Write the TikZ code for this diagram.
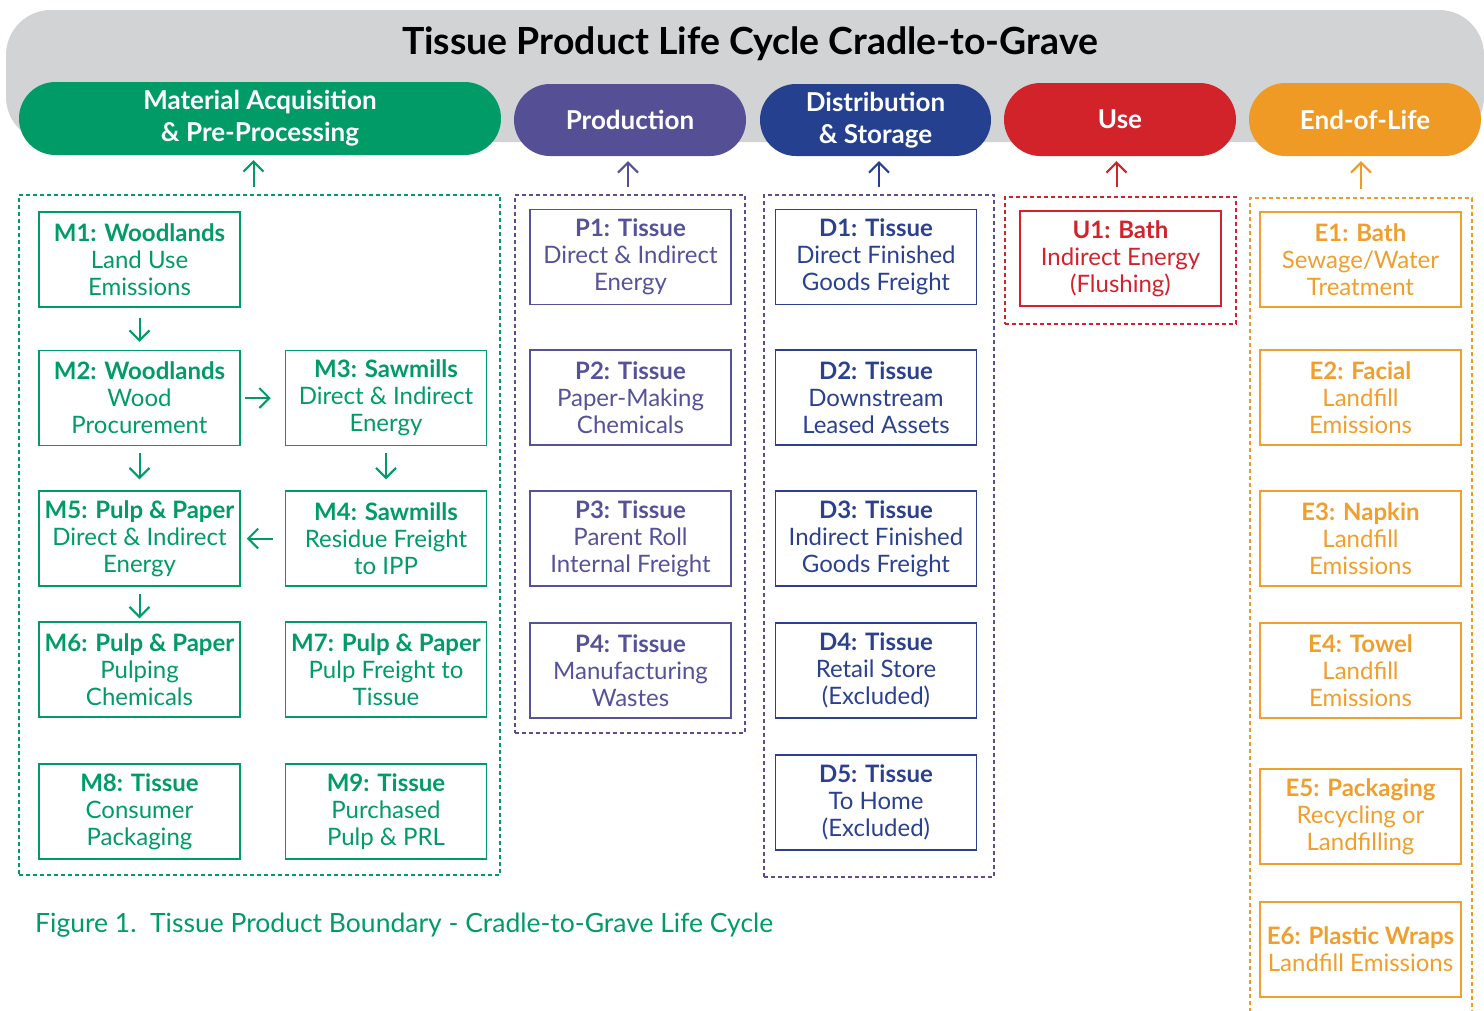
\documentclass[tikz,border=0pt]{standalone}
\usepackage{fontspec}
\setmainfont{Lato}
\usetikzlibrary{arrows.meta,shapes.misc}
\definecolor{bgray}{HTML}{D2D3D5}
\definecolor{cgreen}{HTML}{009B67}
\definecolor{cpurple}{HTML}{554F96}
\definecolor{cblue}{HTML}{24408E}
\definecolor{cred}{HTML}{D2232A}
\definecolor{corange}{HTML}{EF9A25}
\definecolor{tpurple}{HTML}{56529A}
\definecolor{tblue}{HTML}{2B418F}
\definecolor{torange}{HTML}{F09E2C}
\tikzset{
  pill/.style={rounded rectangle, fill=#1, text=white, inner sep=0pt, align=center,
    font=\fontsize{26}{32}\selectfont\bfseries},
  stagebox/.style={draw=#1, text=#1, line width=1.5pt, minimum width=201pt, minimum height=95pt,
    inner sep=0pt, align=center, font=\fontsize{24}{27}\selectfont},
  dashframe/.style={draw=#1, line width=1.4pt, dash pattern=on 4pt off 3pt, inner sep=0pt},
  arr/.style={draw=#1, line width=2pt, -{Straight Barb[length=10pt,width=20pt,line width=2pt]}},
}
\begin{document}
\begin{tikzpicture}[x=1pt,y=-1pt]
\useasboundingbox (0,0) rectangle (1484,1010);
% banner
\fill[bgray, rounded corners=45pt] (6,10) rectangle (1484,142);
\node[font=\fontsize{37.4}{42}\selectfont\bfseries, text=black] (title) at (750,44) {Tissue Product Life Cycle Cradle-to-Grave};
% pills
\node[pill=cgreen, minimum width=482pt, minimum height=73pt] (pM) at (260,118.5) {Material Acquisition\\\& Pre-Processing};
\node[pill=cpurple, minimum width=232pt, minimum height=72pt] (pP) at (630,120) {Production};
\node[pill=cblue, minimum width=231pt, minimum height=72pt] (pD) at (875.5,120) {Distribution\\\& Storage};
\node[pill=cred, minimum width=232pt, minimum height=73pt] (pU) at (1120,119.5) {Use};
\node[pill=corange, minimum width=232pt, minimum height=73pt] (pE) at (1365,119.5) {End-of-Life};
% dashed frames
\node[dashframe=cgreen, minimum width=481pt, minimum height=680pt] (cM) at (259.5,535) {};
\node[dashframe=cpurple, minimum width=230pt, minimum height=538pt] (cP) at (630,464) {};
\node[dashframe=cpurple, minimum width=230pt, minimum height=682pt] (cD) at (879,536) {};
\node[dashframe=cred, minimum width=231pt, minimum height=127pt] (cU) at (1120.5,260.5) {};
\coordinate (cEtop) at (1361,198);
\draw[corange, line width=1.4pt, dash pattern=on 4pt off 3pt] (1250,1012) -- (1250,198) -- (1472,198) -- (1472,1012);
% arrows to pills
\draw[arr=cgreen, shorten <=7pt, shorten >=5pt] ([xshift=-6pt]cM.north) -- ([xshift=-6pt]cM.north |- pM.south);
\draw[arr=cpurple, shorten <=7pt, shorten >=5pt] ([xshift=-2pt]cP.north) -- ([xshift=-2pt]cP.north |- pP.south);
\draw[arr=cblue, shorten <=7pt, shorten >=5pt] (cD.north) -- (cD.north |- pD.south);
\draw[arr=cred, shorten <=9pt, shorten >=5pt] ([xshift=-4pt]cU.north) -- ([xshift=-4pt]cU.north |- pU.south);
\draw[arr=corange, shorten <=9pt, shorten >=5pt] (cEtop) -- (cEtop |- pE.south);
% material boxes
\node[stagebox=cgreen] (M1) at (139.5,259.5) {\textbf{M1: Woodlands}\\Land Use\\Emissions};
\node[stagebox=cgreen] (M2) at (139.5,398) {\textbf{M2: Woodlands}\\Wood\\Procurement};
\node[stagebox=cgreen] (M3) at (386,398) {\textbf{M3: Sawmills}\\Direct \& Indirect\\Energy};
\node[stagebox=cgreen] (M5) at (139.5,538.5) {\textbf{M5: Pulp \& Paper}\\Direct \& Indirect\\Energy};
\node[stagebox=cgreen] (M4) at (386,538.5) {\textbf{M4: Sawmills}\\Residue Freight\\to IPP};
\node[stagebox=cgreen] (M6) at (139.5,669.5) {\textbf{M6: Pulp \& Paper}\\Pulping\\Chemicals};
\node[stagebox=cgreen] (M7) at (386,669.5) {\textbf{M7: Pulp \& Paper}\\Pulp Freight to\\Tissue};
\node[stagebox=cgreen] (M8) at (139.5,811.5) {\textbf{M8: Tissue}\\Consumer\\Packaging};
\node[stagebox=cgreen] (M9) at (386,811.5) {\textbf{M9: Tissue}\\Purchased\\Pulp \& PRL};
\draw[arr=cgreen, shorten <=10pt, shorten >=8pt] (M1) -- (M2);
\draw[arr=cgreen, shorten <=4pt, shorten >=14pt] (M2) -- (M3);
\draw[arr=cgreen, shorten <=7pt, shorten >=11pt] (M2) -- (M5);
\draw[arr=cgreen, shorten <=7pt, shorten >=11pt] (M3) -- (M4);
\draw[arr=cgreen, shorten <=12pt, shorten >=6pt] (M4) -- (M5);
\draw[arr=cgreen, shorten <=7pt, shorten >=3pt] (M5) -- (M6);
% production boxes
\node[stagebox=tpurple] (P1) at (630.5,257) {\textbf{P1: Tissue}\\Direct \& Indirect\\Energy};
\node[stagebox=tpurple] (P2) at (630.5,397.5) {\textbf{P2: Tissue}\\Paper-Making\\Chemicals};
\node[stagebox=tpurple] (P3) at (630.5,538.5) {\textbf{P3: Tissue}\\Parent Roll\\Internal Freight};
\node[stagebox=tpurple] (P4) at (630.5,670.5) {\textbf{P4: Tissue}\\Manufacturing\\Wastes};
% distribution boxes
\node[stagebox=tblue] (D1) at (876,257) {\textbf{D1: Tissue}\\Direct Finished\\Goods Freight};
\node[stagebox=tblue] (D2) at (876,397.5) {\textbf{D2: Tissue}\\Downstream\\Leased Assets};
\node[stagebox=tblue] (D3) at (876,538.5) {\textbf{D3: Tissue}\\Indirect Finished\\Goods Freight};
\node[stagebox=tblue] (D4) at (876,670.5) {\textbf{D4: Tissue}\\Retail Store\\(Excluded)};
\node[stagebox=tblue] (D5) at (876,802.5) {\textbf{D5: Tissue}\\To Home\\(Excluded)};
% use box
\node[stagebox=cred] (U1) at (1120.5,258.5) {\textbf{U1: Bath}\\Indirect Energy\\(Flushing)};
% end-of-life boxes
\node[stagebox=torange] (E1) at (1360.5,259.5) {\textbf{E1: Bath}\\Sewage/Water\\Treatment};
\node[stagebox=torange] (E2) at (1360.5,397.5) {\textbf{E2: Facial}\\Landfill\\Emissions};
\node[stagebox=torange] (E3) at (1360.5,538.5) {\textbf{E3: Napkin}\\Landfill\\Emissions};
\node[stagebox=torange] (E4) at (1360.5,670.5) {\textbf{E4: Towel}\\Landfill\\Emissions};
\node[stagebox=torange] (E5) at (1360.5,816.5) {\textbf{E5: Packaging}\\Recycling or\\Landfilling};
\node[stagebox=torange] (E6) at (1360.5,949.5) {\textbf{E6: Plastic Wraps}\\Landfill Emissions};
% caption
\node[anchor=west, text=cgreen, font=\fontsize{26.5}{30}\selectfont, inner sep=0pt] (cap) at (35,925) {Figure 1.\ \ Tissue Product Boundary - Cradle-to-Grave Life Cycle};
\end{tikzpicture}
\end{document}
